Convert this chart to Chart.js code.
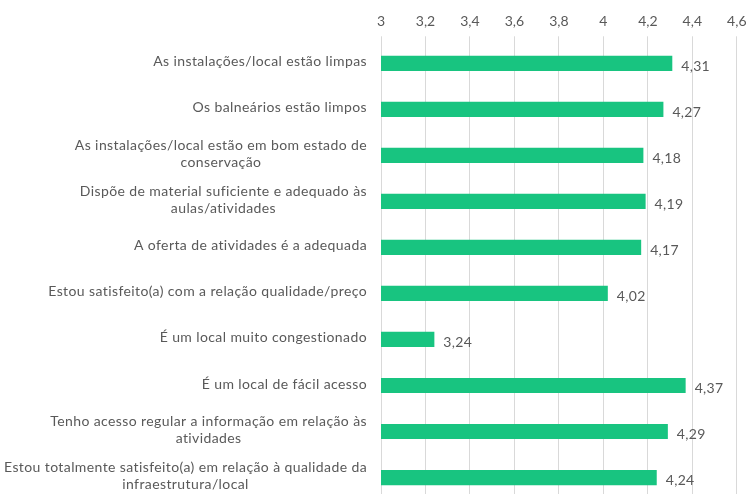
<!DOCTYPE html>
<html>
<head>
<meta charset="utf-8">
<script src="https://cdn.jsdelivr.net/npm/chart.js@4"></script>
<style>
  html, body { margin: 0; padding: 0; background: #fff; overflow: hidden; }
  #wrap { width: 753px; height: 523px; position: relative; }
</style>
</head>
<body>
<div id="wrap"><canvas id="myChart"></canvas></div>
<script>
const categories = [
    'As instalações/local estão limpas',
    'Os balneários estão limpos',
    ['As instalações/local estão em bom estado de', 'conservação'],
    ['Dispõe de material suficiente e adequado às', 'aulas/atividades'],
    'A oferta de atividades é a adequada',
    'Estou satisfeito(a) com a relação qualidade/preço',
    'É um local muito congestionado',
    'É um local de fácil acesso',
    ['Tenho acesso regular a informação em relação às', 'atividades'],
    ['Estou totalmente satisfeito(a) em relação à qualidade da', 'infraestrutura/local']
];
const values = [4.31, 4.27, 4.18, 4.19, 4.17, 4.02, 3.24, 4.37, 4.29, 4.24];
const tickValues = [3, 3.2, 3.4, 3.6, 3.8, 4, 4.2, 4.4, 4.6];

const fmt = v => Number(v.toFixed(2)).toString().replace('.', ',');
const textColor = '#595959';
const fontFamily = 'Lato, "Open Sans", sans-serif';

// value to the right of each bar
const valueLabels = {
    id: 'valueLabels',
    afterDatasetsDraw(chart) {
        const ctx = chart.ctx;
        const meta = chart.getDatasetMeta(0);
        ctx.save();
        ctx.font = '14px ' + fontFamily;
        ctx.fillStyle = textColor;
        ctx.textAlign = 'left';
        ctx.textBaseline = 'middle';
        ctx.letterSpacing = '0.3px';
        meta.data.forEach((bar, i) => {
            ctx.fillText(fmt(values[i]), bar.x + 9, bar.y + 3);
        });
        ctx.restore();
    }
};

// category labels: block right aligned, lines centred inside the block
const categoryLabels = {
    id: 'categoryLabels',
    afterDraw(chart) {
        const ctx = chart.ctx;
        const yScale = chart.scales.y;
        const rightEdge = yScale.right - 14;
        const lineH = 17;
        ctx.save();
        ctx.font = '14px ' + fontFamily;
        ctx.fillStyle = textColor;
        ctx.textAlign = 'center';
        ctx.textBaseline = 'middle';
        ctx.letterSpacing = '0.4px';
        categories.forEach((label, i) => {
            const lines = Array.isArray(label) ? label : [label];
            const w = Math.max(...lines.map(l => ctx.measureText(l).width));
            const cx = rightEdge - w / 2;
            const cy = yScale.getPixelForTick(i) - 1.5;
            const startY = cy - (lines.length - 1) * lineH / 2;
            lines.forEach((l, j) => ctx.fillText(l, cx, startY + j * lineH));
        });
        ctx.restore();
    }
};

const data = {
    labels: categories,
    datasets: [{
        data: values,
        backgroundColor: '#18C480',
        borderWidth: 0,
        barPercentage: 0.66,
        categoryPercentage: 0.5
    }]
};

const config = {
    type: 'bar',
    data: data,
    plugins: [valueLabels, categoryLabels],
    options: {
        indexAxis: 'y',
        responsive: true,
        maintainAspectRatio: false,
        animation: false,
        layout: { padding: { top: 6.5, right: 0, left: 0, bottom: 0 } },
        plugins: {
            legend: { display: false },
            tooltip: { enabled: false }
        },
        scales: {
            x: {
                position: 'top',
                min: 3,
                max: 4.6,
                afterBuildTicks: scale => {
                    scale.ticks = tickValues.map(v => ({ value: v }));
                },
                ticks: {
                    color: textColor,
                    font: { family: fontFamily, size: 14 },
                    padding: 6.5,
                    callback: v => fmt(v)
                },
                grid: {
                    color: '#d9d9d9',
                    lineWidth: 1,
                    drawTicks: true,
                    tickLength: 4
                },
                border: { display: false }
            },
            y: {
                afterFit: scale => { scale.width = 381; },
                ticks: {
                    color: 'transparent',
                    font: { family: fontFamily, size: 13, lineHeight: 1.3 },
                    padding: 14,
                    autoSkip: false
                },
                grid: { display: false },
                border: { display: true, color: '#d9d9d9' }
            }
        }
    }
};

new Chart(
    document.getElementById('myChart'),
    config
);
</script>
</body>
</html>
